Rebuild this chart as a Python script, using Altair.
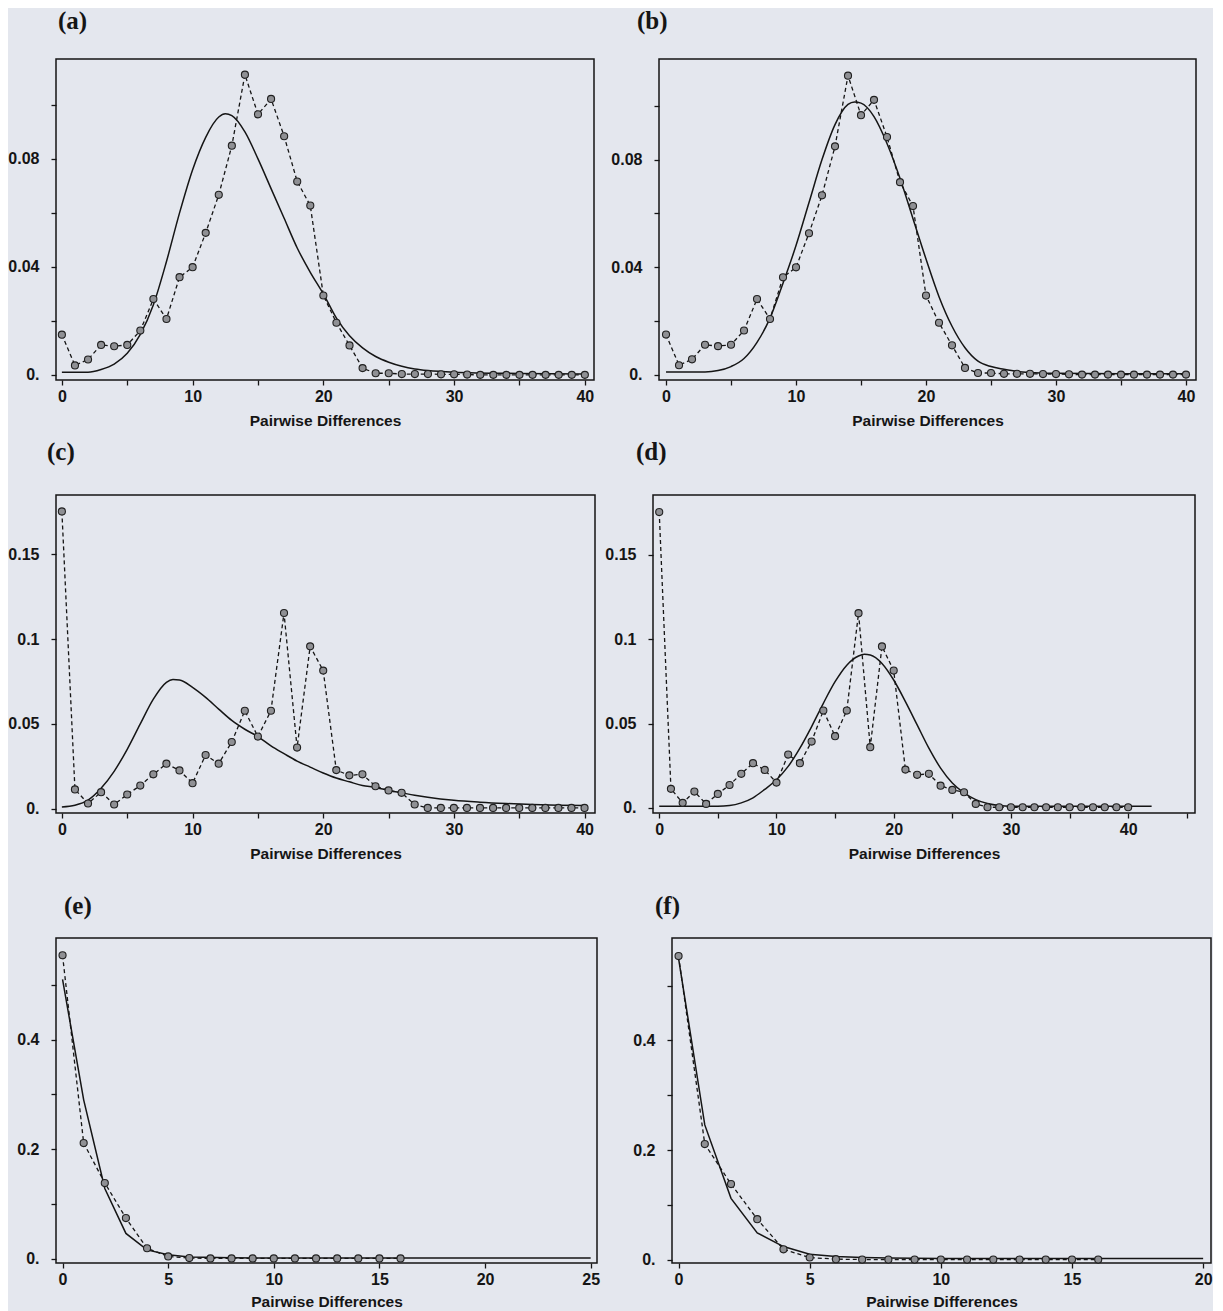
import altair as alt
import pandas as pd

BG = "#e4e7ee"
INK = "#151515"

# ---------------- observed mismatch distributions ----------------
obs_x_ab = list(range(41))
obs_ab = [0.0149, 0.0035, 0.0057, 0.0111, 0.0106, 0.0111, 0.0164, 0.0281, 0.0207, 0.0362,
          0.0399, 0.0526, 0.0667, 0.0849, 0.1112, 0.0965, 0.1022, 0.0884, 0.0716, 0.0627,
          0.0294, 0.0193, 0.0109, 0.0025, 0.0006, 0.0006, 0.0003, 0.0003, 0.0003, 0.0002,
          0.0002, 0.0001, 0, 0, 0, 0, 0, 0, 0, 0, 0]

obs_x_cd = list(range(41))
obs_cd = [0.1753, 0.0113, 0.0030, 0.0097, 0.0024, 0.0083, 0.0136, 0.0202, 0.0265, 0.0225,
          0.0150, 0.0316, 0.0265, 0.0393, 0.0577, 0.0425, 0.0577, 0.1154, 0.0360, 0.0957,
          0.0814, 0.0227, 0.0196, 0.0202, 0.0132, 0.0107, 0.0093, 0.0024, 0.0004, 0.0004,
          0.0004, 0.0004, 0.0004, 0.0004, 0.0004, 0.0004, 0.0004, 0.0004, 0.0004, 0.0004, 0.0004]

obs_x_ef = list(range(17))
obs_ef = [0.554, 0.211, 0.138, 0.074, 0.019, 0.004, 0.001, 0.0003, 0.0003, 0.0003,
          0.0003, 0.0003, 0.0003, 0.0003, 0.0003, 0.0003, 0.0003]

# ---------------- expected (model) curves ----------------
curve_a_x = [0, 1, 2, 3, 4, 5, 6, 7, 8, 9, 10, 11, 12, 12.5, 13, 14, 15, 16, 17, 18, 19, 20,
             21, 22, 23, 24, 25, 26, 27, 28, 30, 35, 40]
curve_a_y = [0.001, 0.001, 0.001, 0.002, 0.004, 0.008, 0.015, 0.026, 0.042, 0.060, 0.076, 0.088,
             0.0955, 0.0967, 0.096, 0.090, 0.080, 0.069, 0.058, 0.047, 0.038, 0.030, 0.021, 0.0145,
             0.010, 0.0068, 0.0047, 0.0032, 0.0022, 0.0016, 0.001, 0.0005, 0.0003]

curve_b_x = [0, 1, 2, 3, 4, 5, 6, 7, 8, 9, 10, 11, 12, 13, 14, 14.5, 15, 16, 17, 18, 19, 20,
             21, 22, 23, 24, 25, 26, 27, 28, 30, 35, 40]
curve_b_y = [0.001, 0.001, 0.001, 0.001, 0.0015, 0.003, 0.006, 0.012, 0.021, 0.034, 0.048, 0.064,
             0.080, 0.093, 0.1005, 0.1014, 0.1010, 0.096, 0.086, 0.073, 0.058, 0.043, 0.029, 0.018,
             0.010, 0.005, 0.003, 0.002, 0.0012, 0.0008, 0.0005, 0.0003, 0.0003]

curve_c_x = [0, 1, 2, 3, 4, 5, 6, 7, 8, 8.5, 9, 10, 11, 12, 13, 14, 15, 16, 17, 18, 19, 20,
             21, 22, 23, 24, 25, 26, 27, 28, 30, 32, 34, 36, 38, 40]
curve_c_y = [0.001, 0.002, 0.005, 0.012, 0.022, 0.035, 0.050, 0.0646, 0.0745, 0.0761, 0.0759,
             0.0715, 0.0656, 0.0587, 0.052, 0.0468, 0.0425, 0.037, 0.0324, 0.028, 0.0245, 0.021,
             0.018, 0.0158, 0.0136, 0.0125, 0.0107, 0.0093, 0.0079, 0.0067, 0.0049, 0.0038,
             0.003, 0.0024, 0.002, 0.0018]

curve_d_x = [0, 2, 4, 5, 6, 7, 8, 9, 10, 11, 12, 13, 14, 15, 16, 17, 17.5, 18, 19, 20, 21, 22,
             23, 24, 25, 26, 27, 28, 29, 30, 32, 36, 42]
curve_d_y = [0.001, 0.001, 0.001, 0.001, 0.0014, 0.003, 0.006, 0.011, 0.0167, 0.0246, 0.0354,
             0.0482, 0.062, 0.0748, 0.0846, 0.090, 0.091, 0.0906, 0.0856, 0.0758, 0.063, 0.0492,
             0.0354, 0.0236, 0.0148, 0.0089, 0.0049, 0.0026, 0.0014, 0.001, 0.001, 0.001, 0.001]

curve_e_x = [0, 1, 2, 3, 4, 5, 6, 8, 10, 15, 20, 25]
curve_e_y = [0.51, 0.29, 0.128, 0.046, 0.016, 0.007, 0.003, 0.0015, 0.001, 0.001, 0.001, 0.001]

curve_f_x = [0, 1, 2, 3, 4, 5, 6, 7, 8, 10, 15, 20]
curve_f_y = [0.55, 0.246, 0.112, 0.049, 0.024, 0.010, 0.006, 0.004, 0.003, 0.002, 0.002, 0.002]

panel_titles = ["(a)", "(b)", "(c)", "(d)", "(e)", "(f)"]
x_title = "Pairwise Differences"

LABEL_FONT = "Liberation Sans"
TITLE_FONT = "Liberation Serif"
Y_EXTENT = 44


def panel(obs_x, obs_y, cx, cy, xdom, ydom, xticks, xlab, yticks, ylab,
          w, h, title, dx, interp, toff, tpad=9):
    obs = pd.DataFrame({"x": obs_x, "y": obs_y})
    cur = pd.DataFrame({"x": cx, "y": cy})
    xenc = alt.X("x:Q", scale=alt.Scale(domain=xdom, nice=False, zero=False),
                 axis=alt.Axis(values=xticks, labelExpr=xlab, title=x_title,
                               grid=False, domain=False, tickSize=5, tickWidth=1.3,
                               tickColor=INK, labelFont=LABEL_FONT, labelFontSize=16,
                               labelFontWeight="bold", labelColor=INK, labelPadding=3,
                               labelFlush=False, labelOverlap=False,
                               titleFont=LABEL_FONT, titleFontSize=15.5,
                               titleFontWeight="bold", titleColor=INK, titlePadding=tpad))
    yenc = alt.Y("y:Q", scale=alt.Scale(domain=ydom, nice=False, zero=False),
                 axis=alt.Axis(values=yticks, labelExpr=ylab, title=None,
                               grid=False, domain=False, tickSize=5, tickWidth=1.3,
                               tickColor=INK, labelFont=LABEL_FONT, labelFontSize=16,
                               labelFontWeight="bold", labelColor=INK, labelPadding=12,
                               labelFlush=False, labelOverlap=False,
                               minExtent=Y_EXTENT, maxExtent=Y_EXTENT))
    dashed = alt.Chart(obs).mark_line(strokeDash=[4, 3], color=INK, strokeWidth=1.3).encode(
        x=xenc, y=yenc)
    pts = alt.Chart(obs).mark_circle(size=50, fill="#8f9094", stroke="#202020",
                                     strokeWidth=1.1, opacity=1).encode(x=xenc, y=yenc)
    model = alt.Chart(cur).mark_line(color=INK, strokeWidth=1.5, interpolate=interp).encode(
        x=xenc, y=yenc)
    return alt.layer(model, dashed, pts).properties(
        width=w, height=h,
        title=alt.TitleParams(text=title, anchor="start", frame="group", dx=dx,
                              offset=toff, font=TITLE_FONT, fontSize=25,
                              fontWeight="bold", color=INK))


x40_ticks = list(range(0, 41, 5))
x45_ticks = list(range(0, 46, 5))
x_tens = "datum.value % 10 == 0 ? datum.label : ''"
y_ab_ticks = [0, 0.02, 0.04, 0.06, 0.08, 0.10]
y_ab_lab = ("datum.value == 0 ? '0.' : (abs(datum.value / 0.04 - round(datum.value / 0.04)) < 0.001"
            " ? format(datum.value, '.2f') : '')")
y_cd_ticks = [0, 0.05, 0.1, 0.15]
y_cd_lab = "datum.value == 0 ? '0.' : format(datum.value, '~g')"
y_ef_ticks = [0, 0.1, 0.2, 0.3, 0.4, 0.5]
y_ef_lab = ("datum.value == 0 ? '0.' : (abs(datum.value / 0.2 - round(datum.value / 0.2)) < 0.001"
            " ? format(datum.value, '.1f') : '')")

pa = panel(obs_x_ab, obs_ab, curve_a_x, curve_a_y, [-0.45, 40.7], [-0.0019, 0.117],
           x40_ticks, x_tens, y_ab_ticks, y_ab_lab, 538, 321, panel_titles[0], 2, "monotone", 25)
pb = panel(obs_x_ab, obs_ab, curve_b_x, curve_b_y, [-0.54, 40.77], [-0.002, 0.1174],
           x40_ticks, x_tens, y_ab_ticks, y_ab_lab, 537, 321, panel_titles[1], -22, "monotone", 25)
pc = panel(obs_x_cd, obs_cd, curve_c_x, curve_c_y, [-0.45, 40.8], [-0.0026, 0.185],
           x40_ticks, x_tens, y_cd_ticks, y_cd_lab, 539, 318, panel_titles[2], -9, "monotone", 30)
pd_ = panel(obs_x_cd, obs_cd, curve_d_x, curve_d_y, [-0.53, 45.7], [-0.003, 0.1854],
            x45_ticks, x_tens, y_cd_ticks, y_cd_lab, 542, 318, panel_titles[3], -17, "monotone", 30)
pe = panel(obs_x_ef, obs_ef, curve_e_x, curve_e_y, [-0.31, 25.3], [-0.008, 0.5855],
           list(range(0, 26, 5)), "datum.label", y_ef_ticks, y_ef_lab, 541, 325,
           panel_titles[4], 8, "linear", 19, 7)
pf = panel(obs_x_ef, obs_ef, curve_f_x, curve_f_y, [-0.25, 20.3], [-0.006, 0.587],
           list(range(0, 21, 5)), "datum.label", y_ef_ticks, y_ef_lab, 539, 325,
           panel_titles[5], -17, "linear", 19, 7)

row1 = alt.hconcat(pa, pb, spacing=15)
row2 = alt.hconcat(pc, pd_, spacing=8)
row3 = alt.hconcat(pe, pf, spacing=26)

top_rows = alt.vconcat(row1, row2, spacing=9)
chart = alt.vconcat(top_rows, row3, spacing=30).properties(
    background=BG,
    padding={"left": -1, "top": 0, "right": 0, "bottom": 0},
).configure_view(
    stroke=INK, strokeWidth=1.5, fill=BG
)

chart.save("out.html", embed_options={"renderer": "svg", "actions": False})
